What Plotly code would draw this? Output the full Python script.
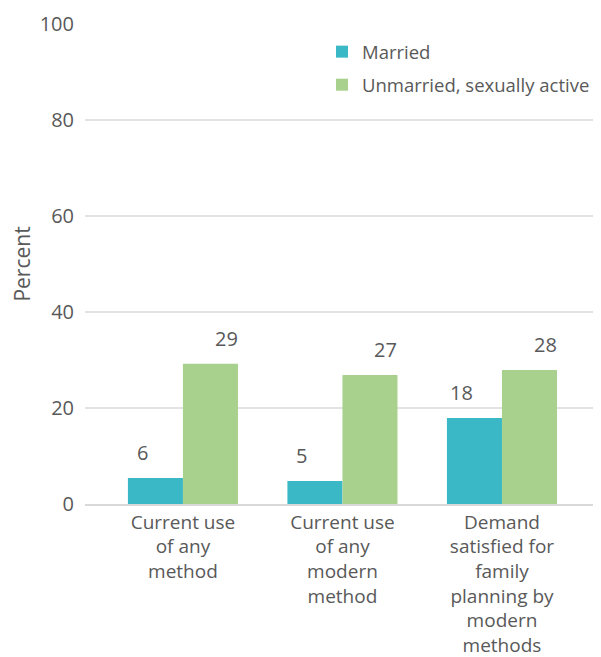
import plotly.graph_objects as go

categories = ["Current use<br>of any<br>method", "Current use<br>of any<br>modern<br>method",
              "Demand<br>satisfied for<br>family<br>planning by<br>modern<br>methods"]
married = [5.4, 4.8, 17.9]
unmarried = [29.2, 26.9, 27.9]
married_labels = ["6", "5", "18"]
unmarried_labels = ["29", "27", "28"]

FONT = "Open Sans"
GRAY = "#595959"
TEAL = "#3AB8C5"
GREEN = "#A9D18E"

fig = go.Figure()
fig.add_trace(go.Bar(x=categories, y=married, name="Married", marker_color=TEAL,
                     marker_line_width=0, legendgroup="a"))
fig.add_trace(go.Bar(x=categories, y=unmarried, name="Unmarried, sexually active", marker_color=GREEN,
                     marker_line_width=0, legendgroup="b"))

bw = 0.345
for i, (m, u, ml, ul) in enumerate(zip(married, unmarried, married_labels, unmarried_labels)):
    fig.add_annotation(x=i - bw / 2, y=m, text=ml, showarrow=False, yanchor="bottom", yshift=10, xshift=-13,
                       font=dict(family=FONT, size=20, color=GRAY))
    fig.add_annotation(x=i + bw / 2, y=u, text=ul, showarrow=False, yanchor="bottom", yshift=10, xshift=16,
                       font=dict(family=FONT, size=20, color=GRAY))

# page body has an 8px margin, so the figure is sized to fit the 601x657 window
fig.update_layout(
    width=593, height=649,
    margin=dict(l=77, r=3, t=16, b=153, autoexpand=False),
    paper_bgcolor="white", plot_bgcolor="white",
    barmode="group", bargap=0.31, bargroupgap=0,
    font=dict(family=FONT, size=19, color=GRAY),
    legend=dict(x=0.462, y=0.981, xanchor="left", yanchor="top", bgcolor="rgba(0,0,0,0)",
                font=dict(family=FONT, size=18.5, color=GRAY), tracegroupgap=6, itemwidth=30),
    showlegend=True,
)
fig.update_xaxes(range=[-0.614, 2.602], showgrid=False, showline=True, linecolor="#D9D9D9", linewidth=1.5,
                 ticks="", tickfont=dict(family=FONT, size=19, color=GRAY))
fig.update_yaxes(range=[0, 100], dtick=20, showgrid=True, gridcolor="#E3E3E3", gridwidth=1.5,
                 zeroline=False, ticks="", ticklabelstandoff=10,
                 tickfont=dict(family=FONT, size=20, color=GRAY),
                 title=dict(text="Percent", font=dict(family=FONT, size=21, color=GRAY), standoff=14))

fig.write_html("out.html")
